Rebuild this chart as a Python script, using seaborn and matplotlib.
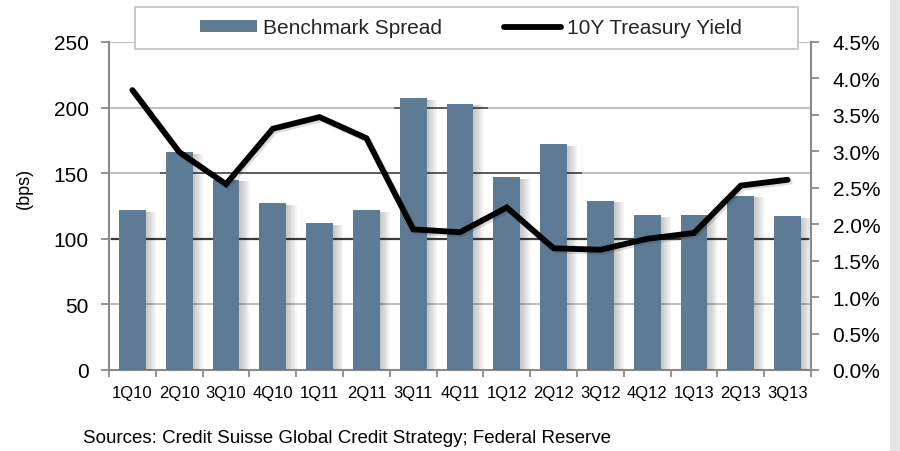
import numpy as np
import pandas as pd
import matplotlib
matplotlib.use("Agg")
import matplotlib.pyplot as plt
import matplotlib.patheffects as pe
from matplotlib.patches import Rectangle, Patch
from matplotlib.lines import Line2D
from matplotlib.ticker import FuncFormatter, MultipleLocator
import seaborn as sns

# Quarterly data
quarters = ["1Q10", "2Q10", "3Q10", "4Q10", "1Q11", "2Q11", "3Q11", "4Q11",
            "1Q12", "2Q12", "3Q12", "4Q12", "1Q13", "2Q13", "3Q13"]
spread_bps = [122, 166, 145, 127, 112, 122, 207, 203, 147, 172, 129, 118, 118, 133, 117]
treasury_yield = [3.84, 2.99, 2.55, 3.31, 3.47, 3.18, 1.93, 1.89, 2.23, 1.67, 1.65, 1.80, 1.88, 2.53, 2.61]

left_ticks = [0, 50, 100, 150, 200, 250]
right_ticks = [0.0, 0.5, 1.0, 1.5, 2.0, 2.5, 3.0, 3.5, 4.0, 4.5]

df = pd.DataFrame({"quarter": quarters, "spread": spread_bps, "yield": treasury_yield})

sns.set_theme(style="white")
plt.rcParams["font.family"] = ["Liberation Sans", "DejaVu Sans"]

BAR_COLOR = "#5e7b95"
SPINE_COLOR = "#8a8a8a"
GRID_LIGHT = "#b9b9b9"
GRID_DARK = "#3c3c3c"

fig = plt.figure(figsize=(9.0, 4.52), dpi=100)
fig.patch.set_facecolor("white")

# grey strip along the right edge
fig.add_artist(Rectangle((890 / 900, 0), 10 / 900, 1, transform=fig.transFigure,
                         facecolor="#e4e4e4", edgecolor="none", zorder=0))

ax = fig.add_axes([109 / 900, 81 / 452, 702 / 900, 328 / 452])
ax.set_facecolor("none")

sns.barplot(data=df, x="quarter", y="spread", color=BAR_COLOR, width=0.57,
            saturation=1, ax=ax, zorder=3)

# soft drop shadow to the right of each bar
shadow = [pe.SimplePatchShadow(offset=(off, -1.2), shadow_rgbFace="k", alpha=0.035)
          for off in (7.5, 6.5, 5.5, 4.5, 3.5, 2.5, 1.5)]
shadow.append(pe.Normal())
for bar in ax.patches:
    bar.set_edgecolor("none")
    bar.set_path_effects(shadow)

ax.set_xlim(-0.5, len(quarters) - 0.5)
ax.set_ylim(0, 250)

# horizontal gridlines
for yv in left_ticks[1:]:
    ax.axhline(yv, color=GRID_LIGHT, lw=1.3, zorder=1)
ax.hlines(100, -0.45, 14.45, color=GRID_DARK, lw=1.6, zorder=1.5)
ax.hlines(150, 0.6, 9.6, color=GRID_DARK, lw=1.4, zorder=1.5, alpha=0.75)
ax.hlines(200, 5.6, 7.6, color=GRID_DARK, lw=1.4, zorder=1.5, alpha=0.75)

ax.set_yticks(left_ticks)
ax.set_xlabel("")
ax.set_ylabel("")
ax.set_xticks(range(len(quarters)))
ax.set_xticklabels(quarters)
ax.xaxis.set_minor_locator(MultipleLocator(1, offset=0.5))
ax.tick_params(axis="x", which="major", length=0, pad=11, labelsize=12, labelcolor="black")
ax.tick_params(axis="x", which="minor", length=5, width=1.3, color=SPINE_COLOR, direction="out",
               bottom=True)
ax.tick_params(axis="y", which="major", length=5.5, width=1.3, color=SPINE_COLOR, direction="out",
               left=True, pad=9, labelsize=15, labelcolor="black")

for side in ["top", "right"]:
    ax.spines[side].set_visible(False)
for side in ["left", "bottom"]:
    ax.spines[side].set_color(SPINE_COLOR)
    ax.spines[side].set_linewidth(1.5)

# secondary axis: 10Y Treasury yield
ax2 = ax.twinx()
sns.lineplot(x=np.arange(len(quarters)), y=treasury_yield, ax=ax2, color="black",
             lw=4.2, solid_joinstyle="miter", solid_capstyle="round", zorder=5,
             path_effects=[pe.SimpleLineShadow(offset=(1.5, -1.5), shadow_color="k", alpha=0.15),
                           pe.Normal()])
ax2.set_ylim(0, 4.5)
ax2.set_yticks(right_ticks)
ax2.yaxis.set_major_formatter(FuncFormatter(lambda v, p: f"{v:.1f}%"))
ax2.tick_params(axis="y", length=5.5, width=1.3, color=SPINE_COLOR, direction="out",
                right=True, pad=10, labelsize=15, labelcolor="black")
for side in ["top", "left", "bottom"]:
    ax2.spines[side].set_visible(False)
ax2.spines["right"].set_color(SPINE_COLOR)
ax2.spines["right"].set_linewidth(1.5)
ax2.set_xlim(-0.5, len(quarters) - 0.5)

# legend panel across the top of the plot
fig.add_artist(Rectangle((135 / 900, 1 - 50 / 452), 663 / 900, 42 / 452,
                         transform=fig.transFigure, facecolor="white",
                         edgecolor="#c4c4c4", lw=1.3, zorder=10))
handles = [Patch(facecolor=BAR_COLOR, edgecolor="none"),
           Line2D([0], [0], color="black", lw=4.2, solid_capstyle="round")]
leg = fig.legend(handles, ["Benchmark Spread", "10Y Treasury Yield"],
                 loc="center", bbox_to_anchor=(471 / 900, 1 - 29 / 452),
                 ncol=2, frameon=False, fontsize=15, handlelength=2.7,
                 handleheight=0.5, handletextpad=0.3, columnspacing=3.0)
leg.set_zorder(11)

fig.text(24 / 900, 1 - 188 / 452, "(bps)", rotation=90, ha="center", va="center",
         fontsize=13, color="black")
fig.text(83 / 900, 1 - 439 / 452,
         "Sources: Credit Suisse Global Credit Strategy; Federal Reserve",
         ha="left", va="center", fontsize=13.5, color="black")

fig.savefig("out.png", dpi=100)
